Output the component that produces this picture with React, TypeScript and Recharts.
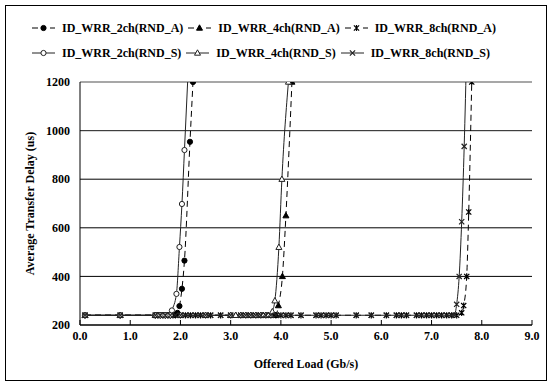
import { CartesianGrid, Line, LineChart, ReferenceLine, XAxis, YAxis } from 'recharts'

document.body.style.margin = '0'

const loadTicks = [0, 1, 2, 3, 4, 5, 6, 7, 8, 9]
const delayTicks = [200, 400, 600, 800, 1000, 1200]

const loads2chA = [0.1, 0.8, 1.5, 1.55, 1.6, 1.65, 1.7, 1.75, 1.8, 1.85, 1.9, 1.94, 1.98, 2.03, 2.08, 2.19, 2.25]
const delays2chA = [240, 240, 240, 240, 240, 240, 240, 240, 240, 240, 242, 250, 278, 349, 465, 954, 1200]

const loads2chS = [0.1, 0.8, 1.5, 1.55, 1.6, 1.65, 1.7, 1.75, 1.8, 1.83, 1.92, 1.98, 2.03, 2.08, 2.17]
const delays2chS = [240, 240, 240, 240, 240, 240, 240, 240, 240, 260, 328, 521, 698, 920, 1320]

const loads4chA = [0.1, 0.8, 1.5, 2.0, 2.5, 3.0, 3.1, 3.2, 3.3, 3.4, 3.5, 3.6, 3.65, 3.7, 3.75, 3.8, 3.85, 3.9, 3.95, 4.03, 4.1, 4.22]
const delays4chA = [240, 240, 240, 240, 240, 240, 240, 240, 240, 240, 240, 240, 240, 240, 240, 240, 240, 240, 280, 400, 650, 1200]

const loads4chS = [0.1, 0.8, 1.5, 2.0, 2.5, 3.0, 3.1, 3.2, 3.3, 3.4, 3.5, 3.6, 3.65, 3.7, 3.75, 3.8, 3.83, 3.88, 3.96, 4.02, 4.15]
const delays4chS = [240, 240, 240, 240, 240, 240, 240, 240, 240, 240, 240, 240, 240, 240, 240, 240, 255, 300, 520, 800, 1200]

const loads8chA = [0.1, 0.8, 1.5, 1.6, 1.7, 1.8, 1.9, 2.0, 2.1, 2.2, 2.3, 2.4, 2.5, 2.6, 2.8, 3.0, 3.2, 3.3, 3.4, 3.5, 3.6, 3.7, 3.8, 3.9, 4.0, 4.1, 4.2, 4.4, 4.7, 4.8, 4.9, 5.0, 5.1, 5.5, 5.8, 6.1, 6.3, 6.4, 6.5, 6.7, 6.8, 6.9, 7.0, 7.1, 7.2, 7.3, 7.4, 7.5, 7.6, 7.64, 7.7, 7.74, 7.8]
const delays8chA = [240, 240, 240, 240, 240, 240, 240, 240, 240, 240, 240, 240, 240, 240, 240, 240, 240, 240, 240, 240, 240, 240, 240, 240, 240, 240, 240, 240, 240, 240, 240, 240, 240, 240, 240, 240, 240, 240, 240, 240, 240, 240, 240, 240, 240, 240, 240, 240, 250, 280, 400, 665, 1200]

const loads8chS = [0.1, 0.8, 1.5, 1.6, 1.7, 1.8, 1.9, 2.0, 2.1, 2.2, 2.3, 2.4, 2.5, 2.6, 2.8, 3.0, 3.2, 3.3, 3.4, 3.5, 3.6, 3.7, 3.8, 3.9, 4.0, 4.1, 4.2, 4.4, 4.7, 4.8, 4.9, 5.0, 5.1, 5.5, 5.8, 6.1, 6.3, 6.4, 6.5, 6.7, 6.8, 6.9, 7.0, 7.1, 7.2, 7.3, 7.4, 7.45, 7.5, 7.55, 7.6, 7.65, 7.7]
const delays8chS = [240, 240, 240, 240, 240, 240, 240, 240, 240, 240, 240, 240, 240, 240, 240, 240, 240, 240, 240, 240, 240, 240, 240, 240, 240, 240, 240, 240, 240, 240, 240, 240, 240, 240, 240, 240, 240, 240, 240, 240, 240, 240, 240, 240, 240, 240, 240, 240, 285, 400, 625, 935, 1350]

type Marker = 'disc' | 'circle' | 'tri' | 'opentri' | 'star' | 'cross'

const toRows = (loads: number[], delays: number[]) => loads.map((load, i) => ({ load, delay: delays[i] }))

const series = [
  { name: 'ID_WRR_2ch(RND_A)', data: toRows(loads2chA, delays2chA), marker: 'disc' as Marker, dashed: true },
  { name: 'ID_WRR_4ch(RND_A)', data: toRows(loads4chA, delays4chA), marker: 'tri' as Marker, dashed: true },
  { name: 'ID_WRR_8ch(RND_A)', data: toRows(loads8chA, delays8chA), marker: 'star' as Marker, dashed: true },
  { name: 'ID_WRR_2ch(RND_S)', data: toRows(loads2chS, delays2chS), marker: 'circle' as Marker, dashed: false },
  { name: 'ID_WRR_4ch(RND_S)', data: toRows(loads4chS, delays4chS), marker: 'opentri' as Marker, dashed: false },
  { name: 'ID_WRR_8ch(RND_S)', data: toRows(loads8chS, delays8chS), marker: 'cross' as Marker, dashed: false },
]

const FONT = '"Liberation Serif", "Times New Roman", serif'
const INK = '#222'

const markerShape = (kind: Marker, x: number, y: number, key?: string | number) => {
  const r = 2.6
  switch (kind) {
    case 'disc':
      return <circle key={key} cx={x} cy={y} r={r} fill="#000" stroke="#000" />
    case 'circle':
      return <circle key={key} cx={x} cy={y} r={r} fill="#fff" stroke={INK} strokeWidth={1} />
    case 'tri':
      return <path key={key} d={`M${x} ${y - 3.2}L${x + 3} ${y + 2.2}L${x - 3} ${y + 2.2}Z`} fill="#000" stroke="#000" />
    case 'opentri':
      return <path key={key} d={`M${x} ${y - 3.2}L${x + 3} ${y + 2.2}L${x - 3} ${y + 2.2}Z`} fill="#fff" stroke={INK} />
    case 'star':
      return (
        <path
          key={key}
          d={`M${x - r} ${y - r}L${x + r} ${y + r}M${x - r} ${y + r}L${x + r} ${y - r}M${x} ${y - r - 0.5}L${x} ${y + r + 0.5}`}
          stroke="#000"
          strokeWidth={1.2}
          fill="none"
        />
      )
    default:
      return (
        <path
          key={key}
          d={`M${x - r} ${y - r}L${x + r} ${y + r}M${x - r} ${y + r}L${x + r} ${y - r}`}
          stroke={INK}
          strokeWidth={1.2}
          fill="none"
        />
      )
  }
}

const dotFor = (kind: Marker) => (p: any) => {
  if (p.cx == null || p.cy == null) return <g key={p.index} />
  return markerShape(kind, p.cx, p.cy, p.index)
}

const LegendIcon = ({ marker, dashed }: { marker: Marker; dashed: boolean }) => (
  <svg width={23} height={10} style={{ marginRight: 7 }}>
    {dashed ? (
      <>
        <line x1={0} y1={5} x2={6} y2={5} stroke="#000" />
        <line x1={18} y1={5} x2={23} y2={5} stroke="#000" />
      </>
    ) : (
      <line x1={0} y1={5} x2={23} y2={5} stroke={INK} />
    )}
    {markerShape(marker, 11.5, 5)}
  </svg>
)

const ChartLegend = () => (
  <div style={{ position: 'absolute', left: 32, top: 19, fontFamily: FONT, fontWeight: 'bold', fontSize: 12 }}>
    {[series.slice(0, 3), series.slice(3)].map((row, r) => (
      <div key={r} style={{ display: 'flex', alignItems: 'center', height: 18, marginBottom: r === 0 ? 7 : 0 }}>
        {row.map((s) => (
          <div key={s.name} style={{ display: 'flex', alignItems: 'center', marginRight: 5 }}>
            <LegendIcon marker={s.marker} dashed={s.dashed} />
            <span>{s.name}</span>
          </div>
        ))}
      </div>
    ))}
  </div>
)

const tickStyle = { fontFamily: FONT, fontWeight: 'bold', fontSize: 12, fill: '#000' }

const App = () => {
  return (
    <div style={{ position: 'relative', width: 553, height: 387, background: '#fff' }}>
      <div
        style={{
          position: 'absolute',
          left: 5,
          top: 5,
          width: 542,
          height: 376,
          border: '1px solid #000',
          boxSizing: 'border-box',
        }}
      />
      <ChartLegend />
      <LineChart
        width={553}
        height={387}
        margin={{ top: 82, right: 21, bottom: 17, left: 0 }}
        style={{ position: 'absolute', left: 0, top: 0 }}
      >
        <CartesianGrid horizontal vertical={false} stroke="#000" />
        <ReferenceLine y={1000} stroke="#444" />
        <ReferenceLine y={1200} stroke="#cfcfcf" />
        <XAxis
          type="number"
          dataKey="load"
          domain={[0, 9]}
          ticks={loadTicks}
          tickFormatter={(v: number) => v.toFixed(1)}
          tick={tickStyle}
          tickSize={-5}
          tickMargin={11}
          axisLine={{ stroke: '#000' }}
          tickLine={{ stroke: '#000' }}
          height={45}
          allowDataOverflow
          label={{
            value: 'Offered Load (Gb/s)',
            position: 'insideBottom',
            offset: 2,
            style: { fontFamily: FONT, fontWeight: 'bold', fontSize: 12, fill: '#000' },
          }}
        />
        <YAxis
          type="number"
          domain={[200, 1200]}
          ticks={delayTicks}
          tick={tickStyle}
          tickLine={false}
          tickSize={0}
          tickMargin={10}
          axisLine={{ stroke: '#000' }}
          width={80}
          allowDataOverflow
          label={{
            value: 'Average Transfer Delay (us)',
            angle: -90,
            position: 'insideLeft',
            offset: 30,
            style: { textAnchor: 'middle', fontFamily: FONT, fontWeight: 'bold', fontSize: 12, fill: '#000' },
          }}
        />
        {series.map((s) => (
          <Line
            key={s.name}
            data={s.data}
            dataKey="delay"
            name={s.name}
            type="monotone"
            stroke={s.dashed ? '#000' : INK}
            strokeWidth={1}
            strokeDasharray={s.dashed ? '6 4' : undefined}
            dot={dotFor(s.marker)}
            activeDot={false}
            isAnimationActive={false}
          />
        ))}
      </LineChart>
    </div>
  )
}

export default App
